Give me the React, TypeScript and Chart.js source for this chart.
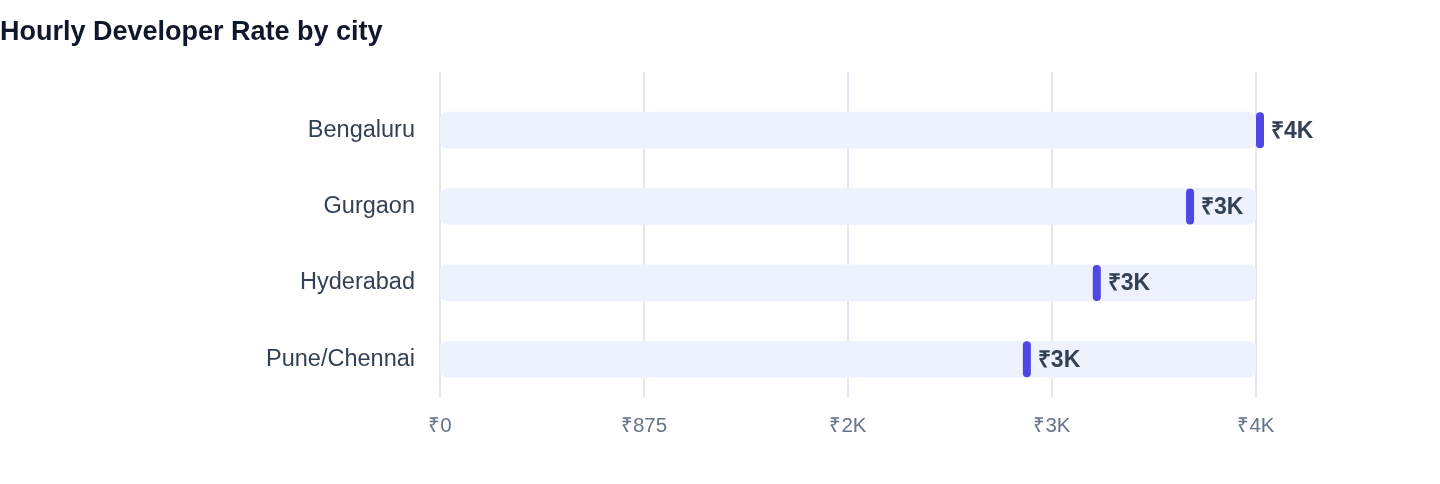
import { useEffect, useRef } from 'react'
import { Chart, registerables } from 'chart.js'
Chart.register(...registerables)

// data
const CITIES = ['Bengaluru', 'Gurgaon', 'Hyderabad', 'Pune/Chennai']
const RATES = [3500, 3200, 2800, 2500]
const X_MAX = 3500
const X_STEP = 875

const FONT = "'Liberation Sans', Arial, Helvetica, sans-serif"
const fmtINR = (v: number) => (v >= 1000 ? '₹' + Math.round(v / 1000) + 'K' : '₹' + v)

// grid lines reaching above the bars + marker and value label at each rate
const rateMarks = {
  id: 'rateMarks',
  beforeDatasetsDraw(chart: any) {
    const { ctx, chartArea, scales: { x } } = chart
    ctx.save()
    ctx.strokeStyle = '#e2e8f0'
    ctx.lineWidth = 2
    x.ticks.forEach((t: any) => {
      const px = Math.round(x.getPixelForValue(t.value))
      ctx.beginPath()
      ctx.moveTo(px, chartArea.top - 20)
      ctx.lineTo(px, chartArea.bottom)
      ctx.stroke()
    })
    ctx.restore()
  },
  afterDatasetsDraw(chart: any) {
    const { ctx, scales: { x } } = chart
    const meta = chart.getDatasetMeta(0)
    ctx.save()
    meta.data.forEach((bar: any, i: number) => {
      const { y, height } = bar.getProps(['y', 'height'], true)
      const px = x.getPixelForValue(RATES[i])
      ctx.fillStyle = '#4f46e5'
      ctx.beginPath()
      ctx.roundRect(px, y - height / 2, 8, height, 4)
      ctx.fill()
      ctx.fillStyle = '#334155'
      ctx.font = `bold 23px ${FONT}`
      ctx.textAlign = 'left'
      ctx.textBaseline = 'middle'
      ctx.fillText(fmtINR(RATES[i]), px + 15, y + 1)
    })
    ctx.restore()
  },
}

export default function App() {
  const ref = useRef<HTMLCanvasElement>(null)
  const chartRef = useRef<Chart | null>(null)

  useEffect(() => {
    document.body.style.margin = '0'
    if (chartRef.current) chartRef.current.destroy()
    if (!ref.current) return
    chartRef.current = new Chart(ref.current, {
      type: 'bar',
      data: {
        labels: CITIES,
        datasets: [{
          data: CITIES.map(() => X_MAX),
          backgroundColor: '#eef2ff',
          borderRadius: 8,
          borderSkipped: false,
          barThickness: 36,
        }],
      },
      options: {
        indexAxis: 'y',
        responsive: true,
        maintainAspectRatio: false,
        animation: false,
        layout: { padding: { top: 0, left: 0, right: 184, bottom: 28 } },
        plugins: {
          legend: { display: false },
          tooltip: { enabled: false },
          title: {
            display: true,
            text: 'Hourly Developer Rate by city',
            align: 'start',
            color: '#0f172a',
            font: { size: 27, weight: 'bold', family: FONT },
            padding: { top: 16, bottom: 43.6 },
          },
        },
        scales: {
          x: {
            type: 'linear', min: 0, max: X_MAX,
            grid: { display: false, drawTicks: false },
            border: { display: false },
            ticks: { stepSize: X_STEP, callback: (v: any) => fmtINR(+v), color: '#64748b', font: { size: 20.5, family: FONT }, padding: 17 },
          },
          y: {
            grid: { display: false, drawTicks: false },
            border: { display: false },
            ticks: { color: '#334155', font: { size: 23.5, family: FONT }, padding: 25 },
            afterFit: (s: any) => { s.width = 440 },
          },
        },
      },
      plugins: [rateMarks],
    })
    return () => { chartRef.current?.destroy() }
  }, [])

  return (
    <div style={{ position: 'relative', width: 1440, height: 484 }}>
      <canvas ref={ref} />
    </div>
  )
}
